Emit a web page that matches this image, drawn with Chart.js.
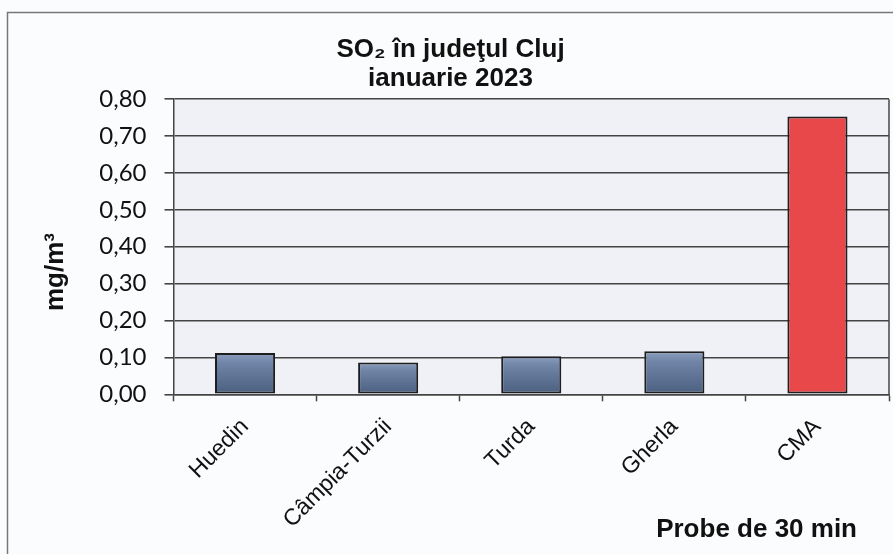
<!DOCTYPE html>
<html>
<head>
<meta charset="utf-8">
<script src="https://cdn.jsdelivr.net/npm/chart.js@4"></script>
<style>
  html, body { margin: 0; padding: 0; background: #fbfcfd; }
  #wrap { width: 893px; height: 554px; }
</style>
</head>
<body>
<div id="wrap"><canvas id="so2Chart"></canvas></div>
<script>
// -----------------------------
// DATA
// -----------------------------
const stations = ["Huedin", "Câmpia-Turzii", "Turda", "Gherla", "CMA"];
const so2Values = [0.112, 0.086, 0.103, 0.117, 0.753];
const barColors = ["blue", "blue", "blue", "blue", "red"];
const yTickValues = [0, 0.1, 0.2, 0.3, 0.4, 0.5, 0.6, 0.7, 0.8];

const titleLines = ["SO₂ în judeţul Cluj", "ianuarie 2023"];
const yTitle = "mg/m³";
const xTitle = "Probe de 30 min";

const TEXT = "#111";
const GRID = "#444";

// -----------------------------
// BAR FILL (blue gradient / red)
// -----------------------------
function barFill(ctx) {
    const i = ctx.dataIndex;
    if (barColors[i] === "red") return "#e9484a";
    const chart = ctx.chart;
    const y = chart.scales.y;
    if (!chart.chartArea || !y) return "#667b9c";
    const top = y.getPixelForValue(so2Values[i]);
    const bottom = y.getPixelForValue(0);
    const g = chart.ctx.createLinearGradient(0, top, 0, bottom);
    g.addColorStop(0, "#8d9fbf");
    g.addColorStop(0.25, "#6f84a6");
    g.addColorStop(1, "#4b5f7f");
    return g;
}

// -----------------------------
// DECORATION: frame, plot background, axis titles
// -----------------------------
const framePlugin = {
    id: "frame",
    beforeDraw(chart) {
        const { ctx, chartArea: a } = chart;
        ctx.save();
        ctx.fillStyle = "#fbfcfd";
        ctx.fillRect(0, 0, chart.width, chart.height);
        ctx.strokeStyle = "#777";
        ctx.lineWidth = 1.5;
        ctx.strokeRect(7.5, 12.5, chart.width + 20, chart.height + 20);
        ctx.fillStyle = "#eff1f6";
        ctx.fillRect(a.left, a.top, a.right - a.left, a.bottom - a.top);
        ctx.restore();
    },
    afterDraw(chart) {
        const { ctx, chartArea: a } = chart;
        ctx.save();
        // right border of plot area
        ctx.strokeStyle = GRID;
        ctx.lineWidth = 1.5;
        ctx.beginPath();
        ctx.moveTo(a.right, a.top);
        ctx.lineTo(a.right, a.bottom);
        ctx.stroke();

        ctx.fillStyle = TEXT;
        // y axis title
        ctx.font = "bold 26px 'Liberation Sans', Arial, sans-serif";
        ctx.textAlign = "center";
        ctx.textBaseline = "alphabetic";
        ctx.translate(63, 272);
        ctx.rotate(-Math.PI / 2);
        ctx.fillText(yTitle, 0, 0);
        ctx.setTransform(1, 0, 0, 1, 0, 0);

        // x axis title
        ctx.font = "bold 26px 'Liberation Sans', Arial, sans-serif";
        ctx.textAlign = "right";
        ctx.fillText(xTitle, a.right - 32, 537);
        ctx.restore();
    }
};

// -----------------------------
// CHART
// -----------------------------
new Chart(document.getElementById("so2Chart"), {
    type: "bar",
    data: {
        labels: stations,
        datasets: [{
            data: so2Values,
            backgroundColor: barFill,
            borderColor: "#1e1e1e",
            borderWidth: 2,
            borderSkipped: false,
            categoryPercentage: 1,
            barPercentage: 0.42
        }]
    },
    options: {
        responsive: true,
        maintainAspectRatio: false,
        animation: false,
        layout: { padding: { left: 12, right: 4, top: 0, bottom: 0 } },
        plugins: {
            legend: { display: false },
            tooltip: { enabled: false },
            title: {
                display: true,
                text: titleLines,
                color: TEXT,
                font: { family: "'Liberation Sans', Arial, sans-serif", size: 26, weight: "bold", lineHeight: 1.1 },
                padding: { top: 36, bottom: 6 }
            }
        },
        scales: {
            x: {
                offset: true,
                grid: {
                    offset: true,
                    drawOnChartArea: false,
                    drawTicks: true,
                    tickLength: 7,
                    tickColor: GRID,
                    tickWidth: 1.5
                },
                border: { display: true, color: GRID, width: 1.5 },
                ticks: {
                    color: TEXT,
                    font: { family: "'Liberation Sans', Arial, sans-serif", size: 23 },
                    minRotation: 45,
                    maxRotation: 45,
                    padding: 12
                },
                afterFit(scale) { scale.height = 159.7; }
            },
            y: {
                min: yTickValues[0],
                max: yTickValues[yTickValues.length - 1],
                afterBuildTicks(scale) {
                    scale.ticks = yTickValues.map(v => ({ value: v }));
                },
                grid: {
                    color: GRID,
                    lineWidth: 1.6,
                    tickLength: 9,
                    tickColor: GRID
                },
                border: { display: true, color: GRID, width: 1.5 },
                ticks: {
                    color: TEXT,
                    font: { family: "Lato, 'Liberation Sans', sans-serif", size: 24 },
                    padding: 18,
                    callback: v => v.toFixed(2).replace(".", ",")
                },
                afterFit(scale) { scale.width = 161.5; }
            }
        }
    },
    plugins: [framePlugin]
});
</script>
</body>
</html>
